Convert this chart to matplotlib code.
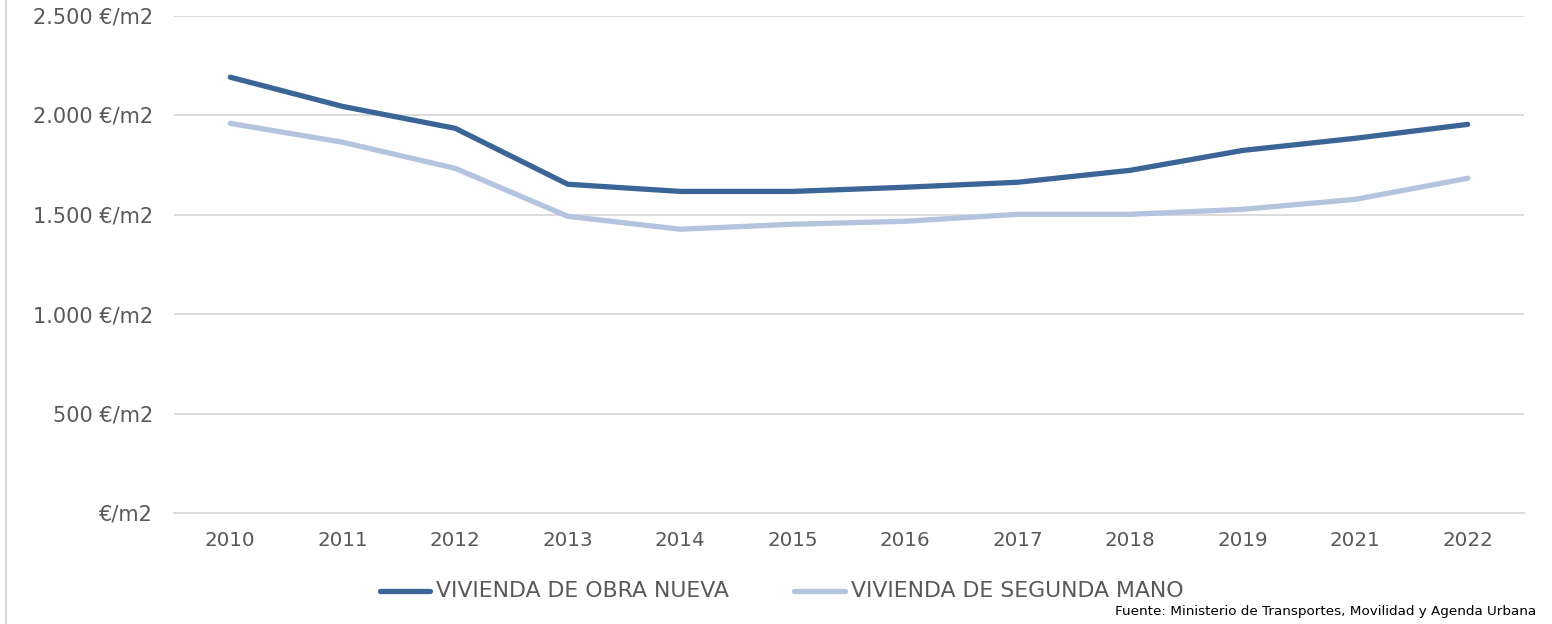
import matplotlib
matplotlib.use("Agg")
import matplotlib.pyplot as plt
from matplotlib.lines import Line2D

years = ["2010", "2011", "2012", "2013", "2014", "2015", "2016", "2017", "2018", "2019", "2021", "2022"]
obra_nueva = [2190, 2043, 1933, 1652, 1616, 1616, 1637, 1662, 1722, 1822, 1883, 1953]
segunda_mano = [1958, 1863, 1732, 1491, 1426, 1451, 1466, 1501, 1501, 1526, 1576, 1682]
yticks = [0, 500, 1000, 1500, 2000, 2500]
ylabels = ["€/m2", "500 €/m2", "1.000 €/m2", "1.500 €/m2", "2.000 €/m2", "2.500 €/m2"]

dark = "#3A6596"
light = "#B4C3DE"
grey = "#595959"

plt.rcParams['font.family'] = ['DejaVu Sans']

W, H = 1552, 624
fig = plt.figure(figsize=(W / 100, H / 100), dpi=100)
ax = fig.add_axes([174 / W, 1 - 513 / H, (1524 - 174) / W, (513 - 15.5) / H])

x = list(range(len(years)))
ax.plot(x, obra_nueva, color=dark, lw=3.8, solid_capstyle="round", solid_joinstyle="round", zorder=3)
ax.plot(x, segunda_mano, color=light, lw=3.8, solid_capstyle="round", solid_joinstyle="round", zorder=2)

ax.set_xlim(-0.5, len(years) - 0.5)
ax.set_ylim(0, 2500)
ax.set_yticks(yticks)
ax.set_yticklabels(ylabels)
ax.set_xticks(x)
ax.set_xticklabels(years)
ax.tick_params(axis="x", length=0, labelsize=14.3, colors=grey, pad=13)
ax.tick_params(axis="y", length=0, labelsize=15, colors=grey, pad=15)
ax.grid(axis="y", color="#D9D9D9", lw=1.3)
ax.set_axisbelow(True)
for s in ax.spines.values():
    s.set_visible(False)
ax.spines["bottom"].set_visible(True)
ax.spines["bottom"].set_color("#D9D9D9")
ax.spines["bottom"].set_linewidth(1.3)

# left border line
fig.add_artist(Line2D([5.5 / W, 5.5 / W], [0, 1], color="#D9D9D9", lw=1.5))

# legend drawn by hand
fig.add_artist(Line2D([380 / W, 430 / W], [1 - 591 / H] * 2, color=dark, lw=3.8, solid_capstyle="round"))
fig.text(436 / W, 1 - 591 / H, "VIVIENDA DE OBRA NUEVA", color=grey, fontsize=15.8, va="center")
fig.add_artist(Line2D([794 / W, 845 / W], [1 - 591 / H] * 2, color=light, lw=3.8, solid_capstyle="round"))
fig.text(851 / W, 1 - 591 / H, "VIVIENDA DE SEGUNDA MANO", color=grey, fontsize=15.8, va="center")

fig.text(1536 / W, 1 - 611 / H, "Fuente: Ministerio de Transportes, Movilidad y Agenda Urbana",
         color="black", fontsize=9.7, ha="right", va="center")

fig.savefig("out.png", dpi=100)
